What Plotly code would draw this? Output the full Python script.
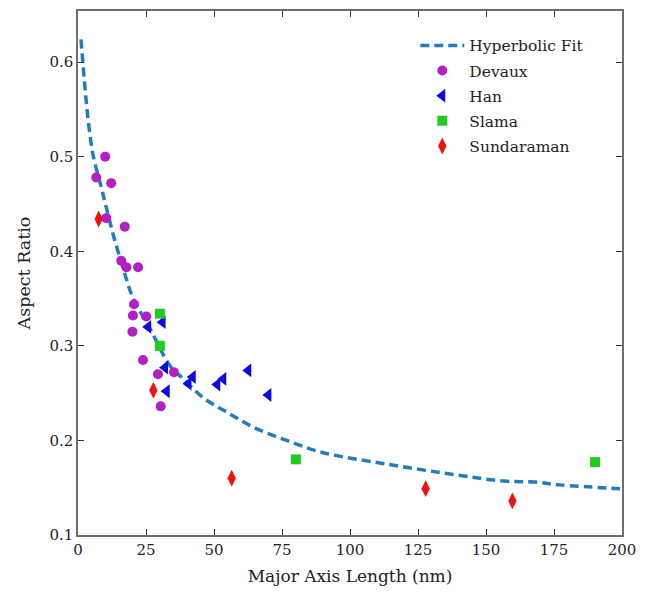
import plotly.graph_objects as go

# Hyperbolic fit curve, sampled (nm, aspect ratio)
fit_x = [1.1, 2.6, 3.8, 5.6, 8.7, 9.9, 13.0, 16.7, 20.3, 26.5, 33.8, 38.7, 46.1,
         54.7, 64.5, 76.7, 90.2, 113.5, 138.0, 156.4, 168.0, 177.2, 199.3]
fit_y = [0.624, 0.572, 0.537, 0.501, 0.466, 0.452, 0.417, 0.381, 0.350, 0.318,
         0.279, 0.265, 0.245, 0.230, 0.214, 0.200, 0.187, 0.175, 0.164, 0.157,
         0.156, 0.153, 0.149]

devaux_x = [6.7, 10.0, 12.2, 10.4, 17.2, 15.9, 17.8, 22.1, 20.6, 20.2, 25.1, 20.0,
            23.9, 29.4, 35.3, 30.4]
devaux_y = [0.478, 0.500, 0.472, 0.435, 0.426, 0.390, 0.383, 0.383, 0.344, 0.332,
            0.331, 0.315, 0.285, 0.270, 0.272, 0.236]

han_x = [25.8, 31.1, 32.0, 32.6, 42.2, 40.6, 53.4, 51.2, 62.6, 70.0]
han_y = [0.320, 0.325, 0.277, 0.252, 0.267, 0.260, 0.265, 0.259, 0.274, 0.248]

slama_x = [30.1, 30.1, 80.1, 190.1]
slama_y = [0.334, 0.300, 0.180, 0.177]

sund_x = [7.6, 27.7, 56.5, 127.8, 159.7]
sund_y = [0.434, 0.253, 0.160, 0.149, 0.136]

x_ticks = [0, 25, 50, 75, 100, 125, 150, 175, 200]
y_ticks = [0.1, 0.2, 0.3, 0.4, 0.5, 0.6]

FONT = "DejaVu Serif"

fig = go.Figure()
fig.add_trace(go.Scatter(
    x=fit_x, y=fit_y, mode="lines", name="Hyperbolic Fit", legendgroup="fit",
    line=dict(color="#1f7dc0", width=3.5, dash="9px,5px", shape="spline"),
))
fig.add_trace(go.Scatter(
    x=devaux_x, y=devaux_y, mode="markers", name="Devaux", legendgroup="devaux",
    marker=dict(symbol="circle", size=10, color="#b21fc4"),
))
fig.add_trace(go.Scatter(
    x=han_x, y=han_y, mode="markers", name="Han", legendgroup="han",
    marker=dict(symbol="triangle-left", size=12, color="#0a0ae6"),
))
fig.add_trace(go.Scatter(
    x=slama_x, y=slama_y, mode="markers", name="Slama", legendgroup="slama",
    marker=dict(symbol="square", size=10, color="#1fcc1f"),
))
fig.add_trace(go.Scatter(
    x=sund_x, y=sund_y, mode="markers", name="Sundaraman", legendgroup="sund",
    marker=dict(symbol="diamond-tall", size=12, color="#f21010"),
))

axis_common = dict(
    showgrid=False, zeroline=False, showline=True, linecolor="#6e6e6e",
    linewidth=1.5, mirror="ticks", ticks="inside", ticklen=6,
    tickcolor="#333333", tickwidth=1,
    tickfont=dict(family=FONT, size=15, color="#222222"),
)

fig.update_layout(
    width=648, height=592,
    margin=dict(l=78, r=26, t=9, b=57),
    paper_bgcolor="white", plot_bgcolor="white",
    font=dict(family=FONT, color="#222222"),
    showlegend=True,
    legend=dict(
        x=0.62, y=0.966, xanchor="left", yanchor="top",
        font=dict(family=FONT, size=15.5, color="#222222"),
        bgcolor="rgba(0,0,0,0)", tracegroupgap=2, itemwidth=44,
    ),
    xaxis=dict(
        range=[0, 200], tickvals=x_ticks,
        title=dict(text="Major Axis Length (nm)", font=dict(family=FONT, size=17), standoff=12),
        **axis_common,
    ),
    yaxis=dict(
        range=[0.1, 0.654], tickvals=y_ticks, tickformat=".1f",
        title=dict(text="Aspect Ratio", font=dict(family=FONT, size=17.5), standoff=14),
        **axis_common,
    ),
)

fig.write_html("out.html")
